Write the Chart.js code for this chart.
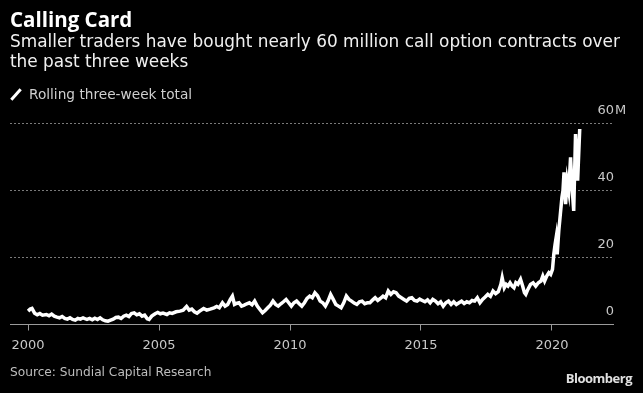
<!DOCTYPE html>
<html>
<head>
<meta charset="utf-8">
<script src="https://cdn.jsdelivr.net/npm/chart.js@4"></script>
<style>
  body { margin: 0; background: #000; }
  .page { position: relative; width: 643px; height: 393px; overflow: hidden; background: #000; font-family: 'DejaVu Sans', sans-serif; }
  canvas { position: absolute; left: 0; top: 0; }
  .title { position: absolute; left: 10px; top: 5px; color: #fff; font-family: 'Open Sans', sans-serif; font-weight: bold; font-size: 20.5px; }
  .subtitle { position: absolute; left: 10px; top: 31px; color: #f0f0f0; font-size: 16.9px; line-height: 20px; }
  .legend { position: absolute; left: 29px; top: 85.6px; color: #cfcfcf; font-size: 13.7px; }
  .slash { position: absolute; left: 9px; top: 93px; width: 14px; height: 3px; background: #fff; transform: rotate(-48deg); }
  .source { position: absolute; left: 10px; top: 365.4px; color: #bdbdbd; font-size: 12.2px; }
  .brand { position: absolute; right: 11px; top: 369px; color: #e0e0e0; font-family: 'Open Sans', sans-serif; font-size: 13px; font-weight: bold; letter-spacing: -0.5px; }
</style>
</head>
<body>
<div class="page">
  <canvas id="chart" width="643" height="393"></canvas>
  <div class="title">Calling Card</div>
  <div class="subtitle">Smaller traders have bought nearly 60 million call option contracts over<br>the past three weeks</div>
  <div class="slash"></div>
  <div class="legend">Rolling three-week total</div>
  <div class="source">Source: Sundial Capital Research</div>
  <div class="brand">Bloomberg</div>
</div>
<script>
// decimal year of each reading
const years = [
  2000.0, 2000.08, 2000.15, 2000.25, 2000.35, 2000.45, 2000.55, 2000.7, 2000.8, 2000.9,
  2001.0, 2001.1, 2001.2, 2001.3, 2001.4, 2001.5, 2001.6, 2001.7, 2001.8, 2001.9,
  2002.0, 2002.1, 2002.25, 2002.35, 2002.45, 2002.55, 2002.65, 2002.75, 2002.85, 2002.95,
  2003.05, 2003.15, 2003.25, 2003.35, 2003.45, 2003.55, 2003.65, 2003.75, 2003.85, 2003.95,
  2004.05, 2004.15, 2004.25, 2004.35, 2004.45, 2004.55, 2004.62, 2004.72, 2004.85, 2004.95,
  2005.05, 2005.15, 2005.3, 2005.4, 2005.5, 2005.65, 2005.8, 2005.92, 2006.05, 2006.15,
  2006.25, 2006.35, 2006.45, 2006.55, 2006.7, 2006.82, 2006.95, 2007.1, 2007.2, 2007.3,
  2007.42, 2007.52, 2007.62, 2007.72, 2007.8, 2007.88, 2007.95, 2008.05, 2008.15, 2008.25,
  2008.35, 2008.45, 2008.55, 2008.65, 2008.75, 2008.85, 2008.95, 2009.05, 2009.15, 2009.25,
  2009.35, 2009.45, 2009.55, 2009.65, 2009.75, 2009.85, 2009.95, 2010.05, 2010.15, 2010.25,
  2010.35, 2010.45, 2010.55, 2010.65, 2010.75, 2010.85, 2010.95, 2011.05, 2011.15, 2011.25,
  2011.35, 2011.45, 2011.55, 2011.65, 2011.75, 2011.85, 2011.95, 2012.05, 2012.15, 2012.25,
  2012.35, 2012.45, 2012.55, 2012.65, 2012.75, 2012.85, 2012.95, 2013.05, 2013.15, 2013.25,
  2013.35, 2013.45, 2013.55, 2013.65, 2013.75, 2013.85, 2013.95, 2014.05, 2014.15, 2014.25,
  2014.35, 2014.45, 2014.55, 2014.65, 2014.75, 2014.85, 2014.95, 2015.05, 2015.15, 2015.25,
  2015.35, 2015.45, 2015.55, 2015.65, 2015.75, 2015.85, 2015.95, 2016.05, 2016.15, 2016.25,
  2016.35, 2016.45, 2016.55, 2016.65, 2016.75, 2016.85, 2016.95, 2017.05, 2017.15, 2017.25,
  2017.35, 2017.45, 2017.55, 2017.65, 2017.75, 2017.85, 2017.95, 2018.05, 2018.1, 2018.18,
  2018.25, 2018.32, 2018.4, 2018.48, 2018.55, 2018.62, 2018.7, 2018.8, 2018.88, 2018.95,
  2019.0, 2019.08, 2019.18, 2019.28, 2019.38, 2019.48, 2019.58, 2019.65, 2019.72, 2019.8,
  2019.88, 2019.95, 2020.02, 2020.07, 2020.12, 2020.16, 2020.2, 2020.26, 2020.32, 2020.38,
  2020.42, 2020.46, 2020.52, 2020.58, 2020.64, 2020.71, 2020.76, 2020.83, 2020.9, 2020.98,
  2021.06
]

// rolling three-week total, millions of contracts
const contracts = [
  4.0, 4.6, 4.8, 3.4, 2.9, 3.3, 2.8, 3.0, 2.6, 3.1,
  2.5, 2.2, 2.0, 2.4, 1.8, 1.6, 2.0, 1.5, 1.3, 1.8,
  1.6, 2.0, 1.5, 1.8, 1.4, 1.9, 1.5, 2.0, 1.4, 1.1,
  1.0, 1.3, 1.6, 2.1, 2.2, 1.8, 2.5, 2.8, 2.4, 3.3,
  3.5, 2.9, 3.2, 2.5, 2.8, 1.7, 1.5, 2.5, 3.2, 3.6,
  3.2, 3.4, 3.0, 3.5, 3.3, 3.8, 4.0, 4.3, 5.4, 4.3,
  4.6, 3.8, 3.4, 4.0, 4.8, 4.3, 4.6, 5.0, 5.4, 5.0,
  6.5, 5.5, 6.0, 7.5, 8.5, 6.0, 6.3, 6.5, 5.5, 5.8,
  6.2, 6.5, 5.9, 7.0, 5.5, 4.5, 3.5, 4.2, 5.0, 5.8,
  7.0, 6.0, 5.5, 6.2, 6.8, 7.5, 6.5, 5.5, 6.5, 7.0,
  6.2, 5.5, 6.5, 7.8, 8.5, 8.0, 9.5, 8.6, 7.0, 6.5,
  5.5, 7.0, 9.0, 7.5, 6.0, 5.5, 5.0, 6.5, 8.5, 7.5,
  7.0, 6.4, 6.0, 6.8, 7.0, 6.2, 6.5, 6.5, 7.3, 8.0,
  7.2, 7.8, 8.5, 8.0, 10.0, 9.0, 9.8, 9.5, 8.5, 8.0,
  7.5, 7.0, 7.8, 8.0, 7.2, 7.0, 7.6, 7.2, 6.8, 7.4,
  6.5, 7.5, 7.0, 6.2, 6.8, 5.5, 6.5, 7.0, 6.0, 6.8,
  6.0, 6.5, 7.0, 6.3, 6.8, 6.5, 7.2, 7.0, 8.0, 6.5,
  7.5, 8.2, 9.0, 8.4, 10.0, 9.2, 9.8, 12.0, 14.0, 11.0,
  12.0, 11.5, 12.5, 11.5, 11.0, 12.5, 12.0, 13.5, 11.5, 9.5,
  9.0, 10.5, 12.0, 12.5, 11.5, 12.5, 13.0, 14.5, 13.0, 14.5,
  15.5, 15.0, 16.5, 21, 24, 26, 21, 28, 33, 38,
  40, 45.5, 36, 43, 40, 50, 42, 34, 57, 43,
  58.5
]

const xTickValues = [2000, 2005, 2010, 2015, 2020]
const yTickValues = [0, 20, 40, 60]

const points = years.map((yr, i) => ({x: yr, y: contracts[i]}))

// the "M" unit sits right after the top tick label
const unitLabel = {
  id: 'unitLabel',
  afterDraw(chart) {
    const yScale = chart.scales.y
    const ctx = chart.ctx
    ctx.save()
    ctx.font = '13px "DejaVu Sans", sans-serif'
    ctx.fillStyle = '#c8c8c8'
    ctx.textAlign = 'left'
    ctx.textBaseline = 'middle'
    ctx.fillText('M', chart.chartArea.right + 2, yScale.getPixelForValue(60) - 13)
    ctx.restore()
  }
}

new Chart(document.getElementById('chart'), {
  type: 'line',
  data: {
    datasets: [{
      label: 'Rolling three-week total',
      data: points,
      borderColor: '#ffffff',
      borderWidth: 3.5,
      pointRadius: 0,
      tension: 0,
      fill: false
    }]
  },
  options: {
    responsive: false,
    animation: false,
    layout: {padding: {left: 10, right: 28, top: 110.6, bottom: 32.9}},
    plugins: {legend: {display: false}, tooltip: {enabled: false}},
    scales: {
      x: {
        type: 'linear',
        min: 1999.31,
        max: 2022.33,
        afterBuildTicks: axis => { axis.ticks = xTickValues.map(v => ({value: v})) },
        grid: {drawOnChartArea: false, drawTicks: true, tickLength: 6, color: '#9a9a9a'},
        border: {display: true, color: '#9a9a9a', width: 1},
        ticks: {
          color: '#c8c8c8',
          font: {family: 'DejaVu Sans', size: 13},
          padding: 7,
          maxRotation: 0,
          callback: v => String(v)
        }
      },
      y: {
        position: 'right',
        min: 0,
        max: 64,
        afterBuildTicks: axis => { axis.ticks = yTickValues.map(v => ({value: v})) },
        grid: {
          drawTicks: false,
          color: ctx => ctx.tick && ctx.tick.value === 0 ? 'rgba(0,0,0,0)' : '#7a7a7a',
          lineWidth: 1
        },
        border: {display: false, dash: [2, 2]},
        ticks: {
          mirror: true,
          padding: 1,
          labelOffset: -13,
          color: '#c8c8c8',
          font: {family: 'DejaVu Sans', size: 13},
          callback: v => String(v)
        }
      }
    }
  },
  plugins: [unitLabel]
})
</script>
</body>
</html>
